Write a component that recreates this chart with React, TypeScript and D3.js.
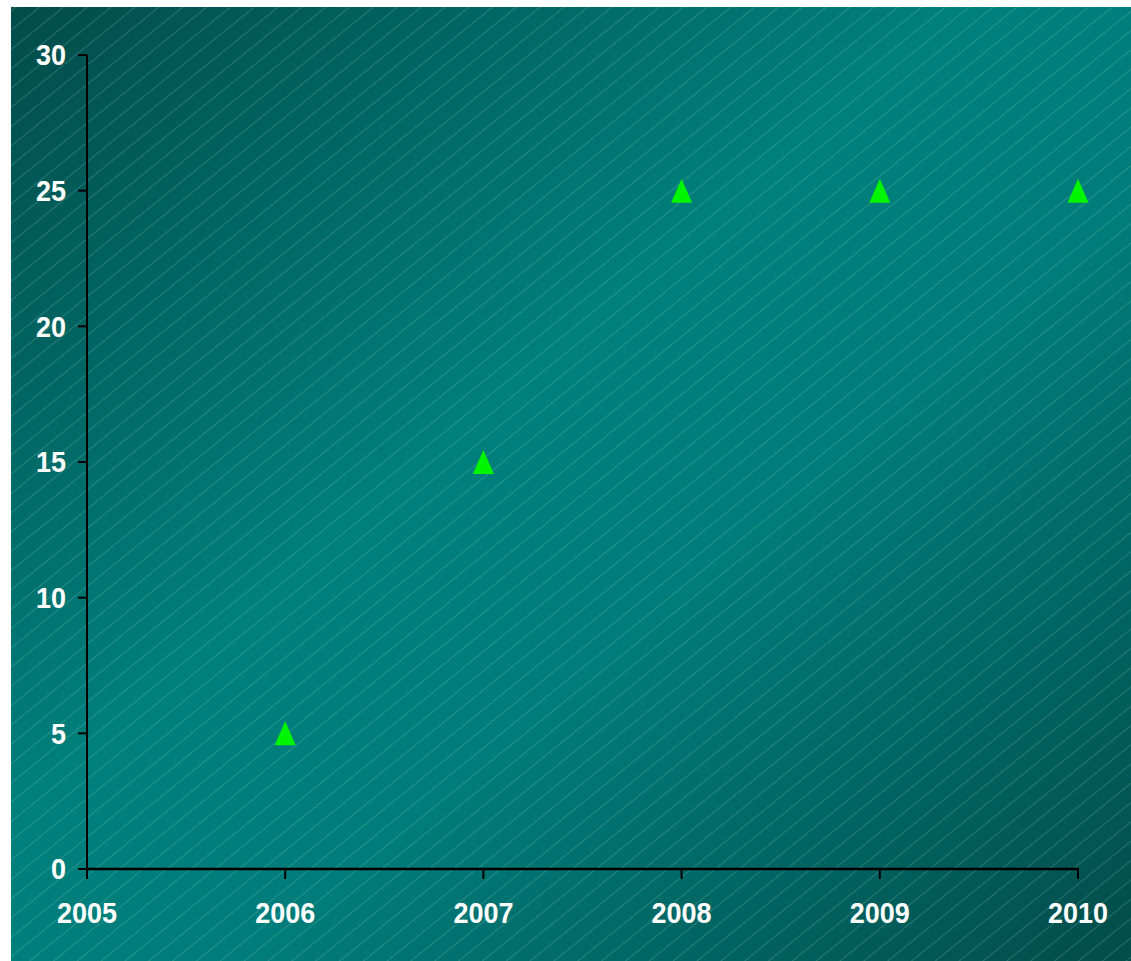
import React from "react";
import * as d3 from "d3";

const years = [2006, 2007, 2008, 2009, 2010];
const values = [5, 15, 25, 25, 25];
const xTicks = [2005, 2006, 2007, 2008, 2009, 2010];
const yTicks = [0, 5, 10, 15, 20, 25, 30];

const W = 1131;
const H = 961;

export default function App() {
  const x = d3.scaleLinear().domain([2005, 2010]).range([87, 1078]);
  const y = d3.scaleLinear().domain([0, 30]).range([869, 55]);

  const tri = (cx: number, cy: number) => {
    const p = d3.path();
    const hw = 10.5;
    const hh = 12;
    p.moveTo(cx, cy - hh);
    p.lineTo(cx + hw, cy + hh);
    p.lineTo(cx - hw, cy + hh);
    p.closePath();
    return p.toString();
  };

  const font = "'Liberation Sans', Arial, sans-serif";
  const sx = 0.93;

  return (
    <svg
      width={W}
      height={H}
      style={{ position: "absolute", left: 0, top: 0, display: "block" }}
    >
      <defs>
        <linearGradient id="bg" x1="0" y1="0" x2="1" y2="1">
          <stop offset="0" stopColor="#024c4a" />
          <stop offset="0.42" stopColor="#007f7b" />
          <stop offset="0.6" stopColor="#007d7a" />
          <stop offset="1" stopColor="#024c4a" />
        </linearGradient>
        <pattern
          id="hatch"
          patternUnits="userSpaceOnUse"
          width="15"
          height="15"
          patternTransform="rotate(51)"
        >
          <line x1="0" y1="0" x2="0" y2="15" stroke="#a8dcd4" strokeOpacity="0.45" strokeWidth="1" />
        </pattern>
      </defs>
      <rect x={11} y={7} width={W - 11} height={H - 7} fill="url(#bg)" />
      <rect x={11} y={7} width={W - 11} height={H - 7} fill="url(#hatch)" />

      {/* axes */}
      <line x1={x(2005)} x2={x(2005)} y1={y(30)} y2={y(0)} stroke="#000" strokeWidth={2} />
      <line x1={x(2005)} x2={x(2010) + 1} y1={y(0)} y2={y(0)} stroke="#000" strokeWidth={2.5} />
      {yTicks.map((t) => (
        <g key={"y" + t}>
          <line x1={78} x2={x(2005)} y1={y(t)} y2={y(t)} stroke="#000" strokeWidth={2} />
          <text
            transform={`translate(66,${y(t)}) scale(${sx},1)`}
            dy="0.36em"
            textAnchor="end"
            fill="#fff"
            fontFamily={font}
            fontWeight="bold"
            fontSize={29}
          >
            {t}
          </text>
        </g>
      ))}
      {xTicks.map((t) => (
        <g key={"x" + t}>
          <line x1={x(t)} x2={x(t)} y1={y(0)} y2={879} stroke="#000" strokeWidth={2} />
          <text
            transform={`translate(${x(t)},923) scale(${sx},1)`}
            textAnchor="middle"
            fill="#fff"
            fontFamily={font}
            fontWeight="bold"
            fontSize={29}
          >
            {t}
          </text>
        </g>
      ))}

      {years.map((yr, i) => (
        <path key={yr} d={tri(x(yr), y(values[i]))} fill="#00f500" />
      ))}
    </svg>
  );
}
